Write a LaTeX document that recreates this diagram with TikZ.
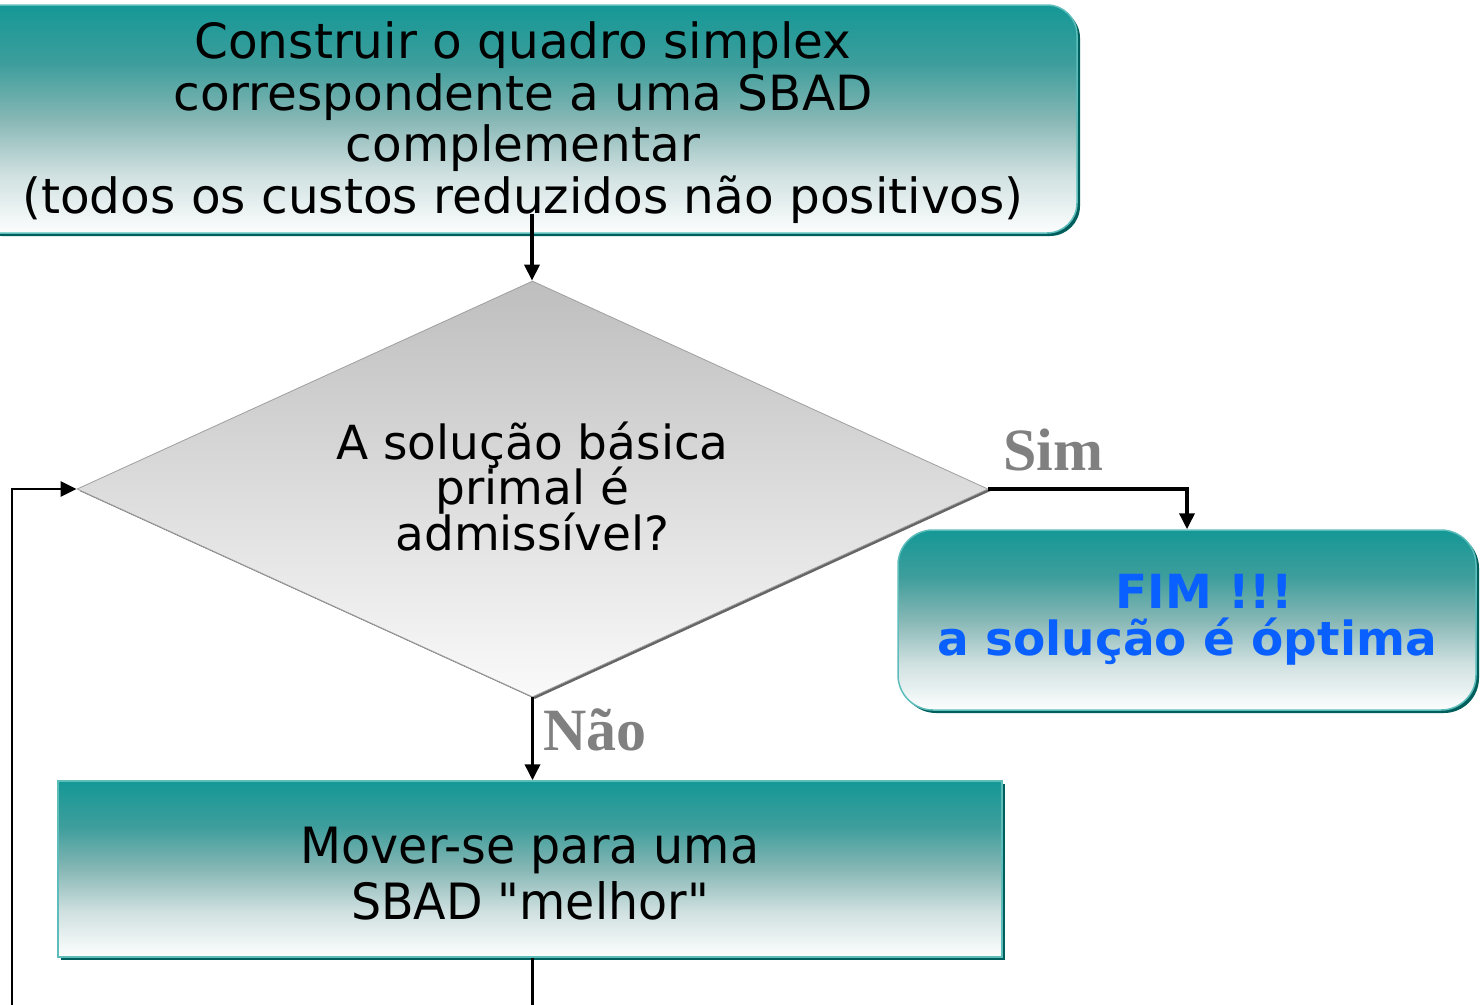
\documentclass[tikz,border=0pt]{standalone}
\usepackage{fontspec}
\setmainfont{DejaVu Sans}
\newfontfamily\labelfont{Liberation Serif}
\newfontfamily\condfont[FakeStretch=0.95]{DejaVu Sans}
\usetikzlibrary{shapes.geometric,arrows.meta,shadows}
\definecolor{tealtop}{HTML}{149896}
\definecolor{teal2}{HTML}{3E9E9C}
\definecolor{teal3}{HTML}{86B7B5}
\definecolor{teal4}{HTML}{CFE0E0}
\definecolor{tealbot}{HTML}{FDFEFE}
\definecolor{teallight}{HTML}{5CBDBB}
\definecolor{tealdark}{HTML}{005F5C}
\definecolor{graytop}{HTML}{BEBEBE}
\definecolor{graybot}{HTML}{FAFAFA}
\definecolor{labelgray}{HTML}{808080}
\definecolor{fimblue}{HTML}{0A5FFF}
\pgfdeclareverticalshading{tealgrad}{100bp}{color(0bp)=(tealbot); color(25bp)=(tealbot); color(38bp)=(teal4); color(50bp)=(teal3); color(62bp)=(teal2); color(75bp)=(tealtop); color(100bp)=(tealtop)}
\pgfdeclareverticalshading{graygrad}{100bp}{color(0bp)=(graybot); color(25bp)=(graybot); color(75bp)=(graytop); color(100bp)=(graytop)}
\tikzset{
  tealbox/.style={shading=tealgrad, draw=teallight, line width=1.5pt,
    drop shadow={fill=tealdark, opacity=1, shadow xshift=3pt, shadow yshift=-3pt},
    inner sep=0pt, align=center},
  decision/.style={diamond, shading=graygrad, draw=gray!75, line width=0.8pt,
    drop shadow={fill=gray!80!black, opacity=1, shadow xshift=2.5pt, shadow yshift=-2pt},
    inner sep=0pt, align=center},
  conn/.style={draw=black, line width=3.6pt, -{Triangle[length=16pt,width=15pt]}},
  branchlabel/.style={font=\labelfont\bfseries\fontsize{60}{60}\selectfont, text=labelgray}
}
\begin{document}
\begin{tikzpicture}[x=1pt,y=-1pt]
\useasboundingbox (0,0) rectangle (1480,1004);
\clip (0,0) rectangle (1480,1004);
\node[tealbox, rounded corners=30pt, minimum width=1108pt, minimum height=228pt,
  font={\fontsize{48.5}{51.7}\selectfont\lineskiplimit=-60pt}] (start) at (523,119)
  {\rule{0pt}{44pt}Construir o quadro simplex\\correspondente a uma SBAD\\complementar\\(todos os custos reduzidos não positivos)};
\node[decision, minimum width=911pt, minimum height=416pt, aspect=2.19,
  font={\fontsize{47}{45.5}\selectfont\lineskiplimit=-60pt}] (test) at (532.5,489)
  {A solução básica\\primal é\\admissível?\rule[-6pt]{0pt}{6pt}};
\node[tealbox, rounded corners=35pt, minimum width=578pt, minimum height=180pt,
  font={\bfseries\fontsize{47}{47}\selectfont\lineskiplimit=-60pt}, text=fimblue] (fim) at (1187,620)
  {\hspace*{34pt}FIM !!!\\a solução é óptima};
\node[tealbox, minimum width=944pt, minimum height=176pt,
  font={\condfont\fontsize{50}{56}\selectfont\lineskiplimit=-60pt}] (move) at (530,869)
  {\rule{0pt}{45pt}Mover-se para uma\\SBAD "melhor"};
\coordinate (loopbottom) at (12,1040);
\draw[conn] ([xshift=9pt,yshift=20pt]start.south) -- ([xshift=-0.5pt]test.north);
\draw[conn] (test.east) -| (fim.north);
\draw[conn] (test.south) -- (test.south |- move.north);
\draw[conn, line width=2.8pt] (test.south |- move.south) -- (test.south |- loopbottom) -- (loopbottom) -- (loopbottom |- test.west) -- (test.west);
\node[branchlabel] (sim) at (1053,450) {Sim};
\node[branchlabel] (nao) at (595,730) {Não};
\end{tikzpicture}
\end{document}
